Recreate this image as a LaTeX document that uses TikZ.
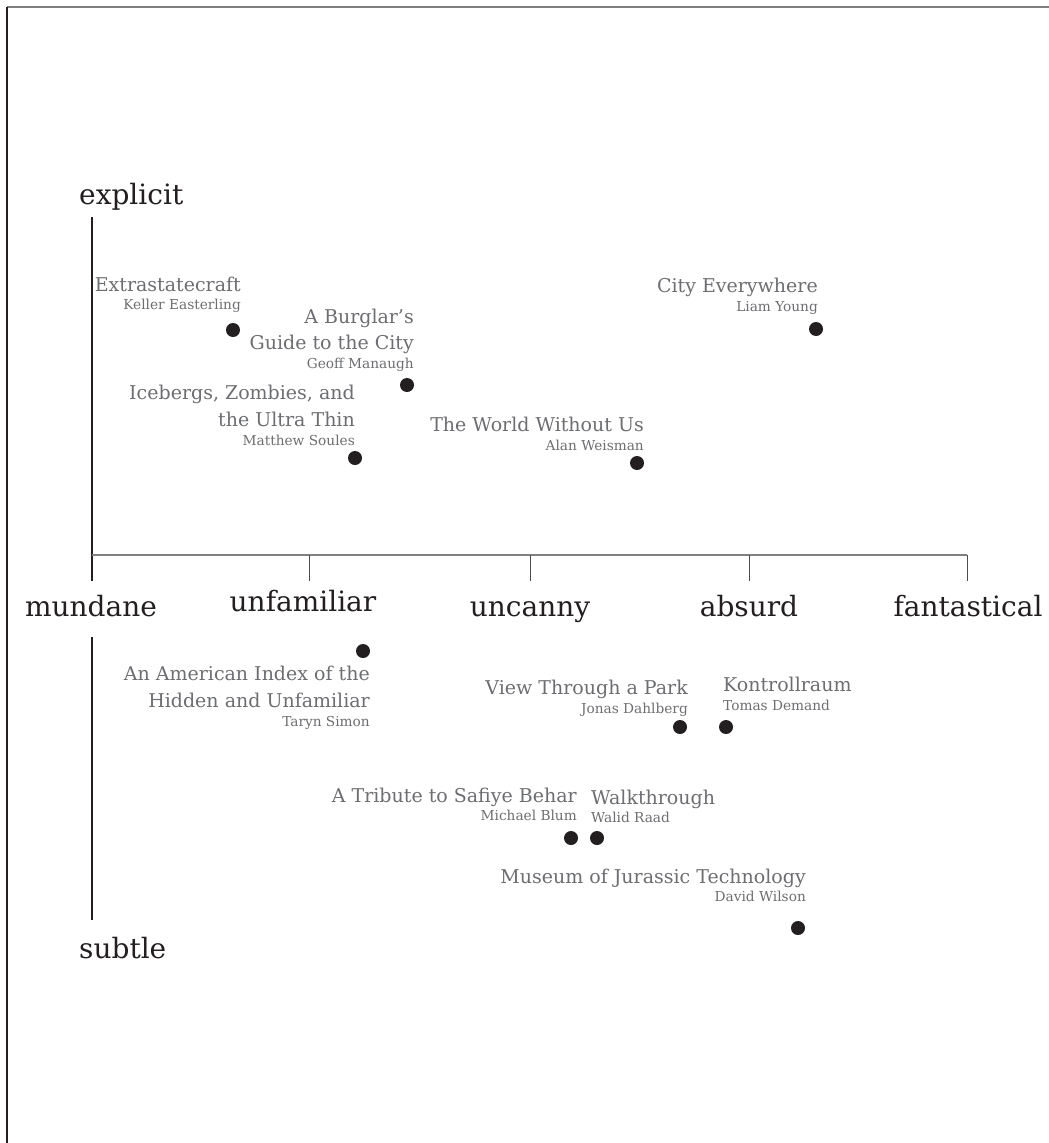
\documentclass[tikz,border=0pt]{standalone}
\usepackage{fontspec}
\setmainfont{DejaVu Serif}
\definecolor{txtgray}{HTML}{6D6E71}
\definecolor{dotc}{HTML}{231F20}
\definecolor{axgray}{HTML}{808080}
\definecolor{framegray}{HTML}{7F7F7F}
\newcommand\axfont{\fontsize{28}{30}\selectfont}
\newcommand\ttlfont{\fontsize{19}{26}\selectfont}
\newcommand\authfont{\fontsize{13.7}{16}\selectfont}
\tikzset{
  axlabel/.style={font=\axfont, text=dotc, inner sep=0pt},
  ttlR/.style={font=\ttlfont, text=txtgray, inner sep=0pt, anchor=base east},
  ttlL/.style={font=\ttlfont, text=txtgray, inner sep=0pt, anchor=base west},
  authR/.style={font=\authfont, text=txtgray, inner sep=0pt, anchor=base east},
  authL/.style={font=\authfont, text=txtgray, inner sep=0pt, anchor=base west},
  dotmark/.style={circle, fill=dotc, draw=none, inner sep=0pt, minimum size=14pt},
  axisline/.style={draw=dotc, line width=1.1pt},
  hline/.style={draw=axgray, line width=2pt},
  tickline/.style={draw=black!70, line width=0.9pt}
}
\begin{document}
\begin{tikzpicture}[x=1pt,y=-1pt]
\useasboundingbox[fill=white] (0,0) rectangle (1049,1143);
% frame
\coordinate (ftl) at (7,6.5);
\coordinate (ftr) at (1049,6.5);
\coordinate (fbl) at (7,1143);
\draw[draw=framegray, line width=2pt] (ftl) -- (ftr);
\draw[draw=dotc, line width=1.4pt] (ftl) -- (fbl);

% axes
\coordinate (vtop) at (92,217);
\coordinate (org) at (92,555);
\coordinate (vtick) at (92,581);
\coordinate (hend) at (967,555);
\coordinate (vlowa) at (92,637);
\coordinate (vlowb) at (92,920);
\draw[axisline] (vtop) -- (vtick);
\draw[axisline] (vlowa) -- (vlowb);
\draw[hline] (org) -- (hend);
\foreach \tx/\nm in {309/tb, 530/tc, 749/td, 967/te} {
  \coordinate (\nm1) at (\tx,555);
  \coordinate (\nm2) at (\tx,581);
  \draw[tickline] (\nm1) -- (\nm2);
}

% axis labels
\node[axlabel, anchor=base west] (explicit) at (79,204) {explicit};
\node[axlabel, anchor=base west] (subtle) at (79,958) {subtle};
\node[axlabel, anchor=base] (mundane) at (91,616) {mundane};
\node[axlabel, anchor=base] (unfamiliar) at (303,611) {unfamiliar};
\node[axlabel, anchor=base] (uncanny) at (530,616) {uncanny};
\node[axlabel, anchor=base] (absurd) at (749,616) {absurd};
\node[axlabel, anchor=base] (fantastical) at (968,616) {fantastical};

% Extrastatecraft
\node[ttlR] (t1) at (241,291) {Extrastatecraft};
\node[authR] (a1) at (241,309) {Keller Easterling};
\node[dotmark] (d1) at (233,330) {};

% Burglar
\node[ttlR] (t2a) at (414,323) {A Burglar’s};
\node[ttlR] (t2b) at (414,349) {Guide to the City};
\node[authR] (a2) at (414,368) {Geoff Manaugh};
\node[dotmark] (d2) at (407,385) {};

% Icebergs
\node[ttlR] (t3a) at (355,399) {Icebergs, Zombies, and};
\node[ttlR] (t3b) at (355,426) {the Ultra Thin};
\node[authR] (a3) at (355,445) {Matthew Soules};
\node[dotmark] (d3) at (355,458) {};

% World Without Us
\node[ttlR] (t4) at (644,431) {The World Without Us};
\node[authR] (a4) at (644,450) {Alan Weisman};
\node[dotmark] (d4) at (637,463) {};

% City Everywhere
\node[ttlR] (t5) at (818,292) {City Everywhere};
\node[authR] (a5) at (818,311) {Liam Young};
\node[dotmark] (d5) at (816,329) {};

% American Index
\node[dotmark] (d6) at (363,651) {};
\node[ttlR] (t6a) at (370,680) {An American Index of the};
\node[ttlR] (t6b) at (370,707) {Hidden and Unfamiliar};
\node[authR] (a6) at (370,726) {Taryn Simon};

% View Through a Park
\node[ttlR] (t7) at (688,694) {View Through a Park};
\node[authR] (a7) at (688,713) {Jonas Dahlberg};
\node[dotmark] (d7) at (680,727) {};

% Kontrollraum
\node[ttlL] (t8) at (723,691) {Kontrollraum};
\node[authL] (a8) at (723,710) {Tomas Demand};
\node[dotmark] (d8) at (726,727) {};

% Tribute
\node[ttlR] (t9) at (577,802) {A Tribute to Safiye Behar};
\node[authR] (a9) at (577,820) {Michael Blum};
\node[dotmark] (d9) at (571,838) {};

% Walkthrough
\node[ttlL] (t10) at (591,804) {Walkthrough};
\node[authL] (a10) at (591,822) {Walid Raad};
\node[dotmark] (d10) at (597,838) {};

% Museum
\node[ttlR] (t11) at (806,883) {Museum of Jurassic Technology};
\node[authR] (a11) at (806,901) {David Wilson};
\node[dotmark] (d11) at (798,928) {};
\end{tikzpicture}
\end{document}
